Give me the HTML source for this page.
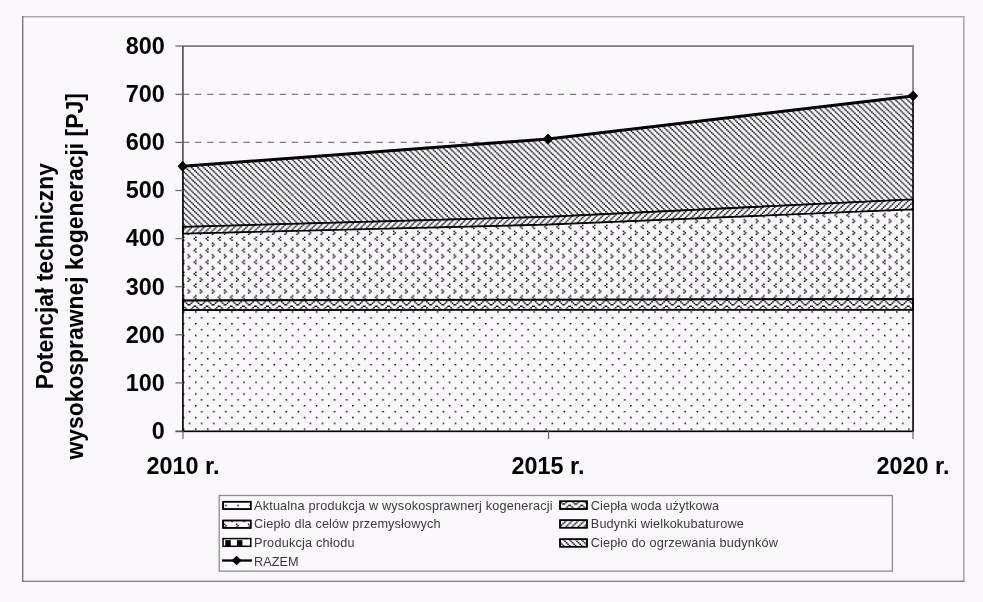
<!DOCTYPE html>
<html><head><meta charset="utf-8">
<style>
html,body{margin:0;padding:0;background:#faf8fb;}
body{width:983px;height:602px;overflow:hidden;}
svg{display:block;will-change:transform;}
text{font-family:"Liberation Sans",sans-serif;}
</style></head><body>
<svg width="983" height="602" viewBox="0 0 983 602">
<defs>
<pattern id="pDots" patternUnits="userSpaceOnUse" width="8" height="8" patternTransform="translate(303.74,428.47) scale(1.511,1.465)"><path d="M0,0h1v1h-1z M4,4h1v1h-1z" fill="#000"/></pattern>
<pattern id="pDivot" patternUnits="userSpaceOnUse" width="8" height="8" patternTransform="translate(303.85699999999997,252.635) scale(1.511,1.465)"><path d="M3,1h1v1h-1z M4,2h1v1h-1z M3,3h1v1h-1z M0,5h1v1h-1z M7,6h1v1h-1z M0,7h1v1h-1z" fill="#000"/></pattern>
<pattern id="pWave" patternUnits="userSpaceOnUse" width="8" height="4" patternTransform="translate(612,304.07) scale(1.511,1.465)"><path d="M0,0h1v1h-1z M7,0h1v1h-1z M3,1h1v1h-1z M4,1h1v1h-1z M2,2h1v1h-1z M5,2h1v1h-1z M1,3h1v1h-1z M6,3h1v1h-1z" fill="#000"/></pattern>
<pattern id="pUp" patternUnits="userSpaceOnUse" width="8" height="8" patternTransform="translate(3.35,0) scale(1.511,1.465)"><path d="M3,0h1v1h-1z M7,0h1v1h-1z M2,1h1v1h-1z M6,1h1v1h-1z M1,2h1v1h-1z M5,2h1v1h-1z M0,3h1v1h-1z M4,3h1v1h-1z M3,4h1v1h-1z M7,4h1v1h-1z M2,5h1v1h-1z M6,5h1v1h-1z M1,6h1v1h-1z M5,6h1v1h-1z M0,7h1v1h-1z M4,7h1v1h-1z" fill="#000"/></pattern>
<pattern id="pDown" patternUnits="userSpaceOnUse" width="8" height="8" patternTransform="translate(0.7,0) scale(1.511,1.465)"><path d="M0,0h1v1h-1z M4,0h1v1h-1z M1,1h1v1h-1z M5,1h1v1h-1z M2,2h1v1h-1z M6,2h1v1h-1z M3,3h1v1h-1z M7,3h1v1h-1z M0,4h1v1h-1z M4,4h1v1h-1z M1,5h1v1h-1z M5,5h1v1h-1z M2,6h1v1h-1z M6,6h1v1h-1z M3,7h1v1h-1z M7,7h1v1h-1z" fill="#000"/></pattern>
</defs>

<!-- outer frame -->
<g fill="#a8a8a8">
  <rect x="22" y="16" width="942.5" height="1.4"/>
  <rect x="963" y="16" width="1.6" height="566"/>
</g>
<rect x="22" y="580.6" width="942.5" height="1.4" fill="#858585"/>
<rect x="22" y="16" width="1.4" height="566" fill="#777"/>

<!-- plot area gridlines -->
<g stroke="#7a7a7a" stroke-width="1.3" stroke-dasharray="6.3,5.79">
  <line x1="183" y1="94.3" x2="913" y2="94.3"/>
  <line x1="183" y1="142.4" x2="913" y2="142.4"/>
  <line x1="183" y1="190.5" x2="913" y2="190.5"/>
  <line x1="183" y1="238.6" x2="913" y2="238.6"/>
  <line x1="183" y1="286.7" x2="913" y2="286.7"/>
  <line x1="183" y1="334.8" x2="913" y2="334.8"/>
  <line x1="183" y1="382.9" x2="913" y2="382.9"/>
</g>
<!-- plot border top/right -->
<path d="M183,46.1 H913 V431" stroke="#7a7a7a" stroke-width="1.6" fill="none"/>

<!-- axes -->
<g stroke="#555" stroke-width="1.7">
  <line x1="182.9" y1="46" x2="182.9" y2="431"/>
  <line x1="175.4" y1="431.3" x2="913" y2="431.3"/>
</g>

<!-- areas -->
<g stroke="#000" stroke-linejoin="miter">
  <!-- ogrzewania -->
  <polygon points="183,166.3 548,139 913,96 913,199.4 548,216.8 183,226.9" fill="#faf8fb" stroke="none"/>
  <polygon points="183,166.3 548,139 913,96 913,199.4 548,216.8 183,226.9" fill="url(#pDown)" stroke-width="1.5"/>
  <!-- budynki -->
  <polygon points="183,226.9 548,216.8 913,199.4 913,209.5 548,224.7 183,233.8" fill="#faf8fb" stroke="none"/>
  <polygon points="183,226.9 548,216.8 913,199.4 913,209.5 548,224.7 183,233.8" fill="url(#pUp)" stroke-width="1.8"/>
  <!-- przemyslowe -->
  <polygon points="183,233.8 548,224.7 913,209.5 913,299 548,299.7 183,300.5" fill="#faf8fb" stroke="none"/>
  <polygon points="183,233.8 548,224.7 913,209.5 913,299 548,299.7 183,300.5" fill="url(#pDivot)" stroke-width="1.5"/>
  <!-- CWU -->
  <polygon points="183,300.5 548,299.7 913,299 913,309.8 548,310 183,310.3" fill="#faf8fb" stroke="none"/>
  <polygon points="183,300.5 548,299.7 913,299 913,309.8 548,310 183,310.3" fill="url(#pWave)" stroke-width="2"/>
  <!-- aktualna -->
  <polygon points="183,310.3 913,309.8 913,431.3 183,431.3" fill="#faf8fb" stroke="none"/>
  <polygon points="183,310.3 913,309.8 913,431.3 183,431.3" fill="url(#pDots)" stroke-width="1.5"/>
</g>

<g stroke="#666" stroke-width="1.2">
  <line x1="175.4" y1="46" x2="183" y2="46"/>
  <line x1="175.4" y1="94.3" x2="183" y2="94.3"/>
  <line x1="175.4" y1="142.4" x2="183" y2="142.4"/>
  <line x1="175.4" y1="190.5" x2="183" y2="190.5"/>
  <line x1="175.4" y1="238.6" x2="183" y2="238.6"/>
  <line x1="175.4" y1="286.7" x2="183" y2="286.7"/>
  <line x1="175.4" y1="334.8" x2="183" y2="334.8"/>
  <line x1="175.4" y1="382.9" x2="183" y2="382.9"/>
  <line x1="548.5" y1="431" x2="548.5" y2="439"/>
  <line x1="913" y1="431" x2="913" y2="439"/>
  <line x1="183" y1="431" x2="183" y2="439"/>
</g>

<!-- RAZEM line -->
<polyline points="183,166.3 548,139 913,96" fill="none" stroke="#000" stroke-width="3"/>
<g fill="#000">
  <path d="M182.6,161.7 L186.9,166.3 L182.6,170.9 L178.3,166.3 Z" stroke="#000" stroke-width="1.2" stroke-linejoin="round"/>
  <path d="M548,134.4 L552.3,139 L548,143.6 L543.7,139 Z" stroke="#000" stroke-width="1.2" stroke-linejoin="round"/>
  <path d="M913.1,91.3 L917.4,95.9 L913.1,100.5 L908.8,95.9 Z" stroke="#000" stroke-width="1.2" stroke-linejoin="round"/>
</g>

<!-- y labels -->
<g font-size="23.4" font-weight="bold" text-anchor="end" fill="#000">
  <text x="164.7" y="54.0">800</text>
  <text x="164.7" y="102.1">700</text>
  <text x="164.7" y="150.2">600</text>
  <text x="164.7" y="198.3">500</text>
  <text x="164.7" y="246.4">400</text>
  <text x="164.7" y="294.5">300</text>
  <text x="164.7" y="342.6">200</text>
  <text x="164.7" y="390.7">100</text>
  <text x="164.7" y="438.8">0</text>
</g>
<!-- x labels -->
<g font-size="23.4" font-weight="bold" text-anchor="middle" fill="#000">
  <text x="183" y="473.5">2010 r.</text>
  <text x="548" y="473.5">2015 r.</text>
  <text x="913" y="473.5">2020 r.</text>
</g>
<!-- axis title -->
<g font-size="23.5" font-weight="bold" text-anchor="middle" fill="#000">
  <text transform="translate(53.4,276.2) rotate(-90) scale(0.974,1)">Potencjał techniczny</text>
  <text transform="translate(83,276.4) rotate(-90) scale(0.975,1)">wysokosprawnej kogeneracji [PJ]</text>
</g>

<!-- legend -->
<rect x="219.2" y="495.5" width="673.2" height="75.6" fill="none" stroke="#8c8c8c" stroke-width="1.3"/>
<g stroke="#000" stroke-width="1.5">
  <rect x="223.05" y="501.7" width="27.7" height="7.4" fill="#faf8fb"/>
  <rect x="223.05" y="501.7" width="27.7" height="7.4" fill="url(#pDots)"/>
  <rect x="223.05" y="520.5" width="27.7" height="7.4" fill="#faf8fb"/>
  <rect x="223.05" y="520.5" width="27.7" height="7.4" fill="url(#pDivot)"/>
  <rect x="223.05" y="538.6" width="27.7" height="7.7" fill="#faf8fb"/>
  <rect x="225.3" y="540.2" width="5.5" height="5.8" fill="#000" stroke="none"/>
  <rect x="236.9" y="540.2" width="5.5" height="5.8" fill="#000" stroke="none"/>
  <rect x="560.05" y="501.3" width="26.9" height="7.7" fill="#faf8fb"/>
  <rect x="560.05" y="501.3" width="26.9" height="7.7" fill="url(#pWave)"/>
  <rect x="560.05" y="520.2" width="26.9" height="7.5" fill="#faf8fb"/>
  <rect x="560.05" y="520.2" width="26.9" height="7.5" fill="url(#pUp)"/>
  <rect x="560.05" y="539.2" width="26.9" height="7.5" fill="#faf8fb"/>
  <rect x="560.05" y="539.2" width="26.9" height="7.5" fill="url(#pDown)"/>
</g>
<line x1="222" y1="560.5" x2="252" y2="560.5" stroke="#000" stroke-width="2.3"/>
<path d="M236.6,555.8 L241.6,560.5 L236.6,565.2 L231.6,560.5 Z" fill="#000"/>
<g font-size="12.7" fill="#3a3a3a" lengthAdjust="spacing">
  <text x="254" y="509.6" textLength="298.5">Aktualna produkcja w wysokosprawnerj kogeneracji</text>
  <text x="254" y="528.3" textLength="186.5">Ciepło dla celów przemysłowych</text>
  <text x="254" y="547" textLength="100.5">Produkcja chłodu</text>
  <text x="254" y="566" textLength="44.5">RAZEM</text>
  <text x="590.8" y="509.6" textLength="128.2">Ciepła woda użytkowa</text>
  <text x="590.8" y="528.3" textLength="153">Budynki wielkokubaturowe</text>
  <text x="590.8" y="547" textLength="187">Ciepło do ogrzewania budynków</text>
</g>
</svg>
</body></html>
